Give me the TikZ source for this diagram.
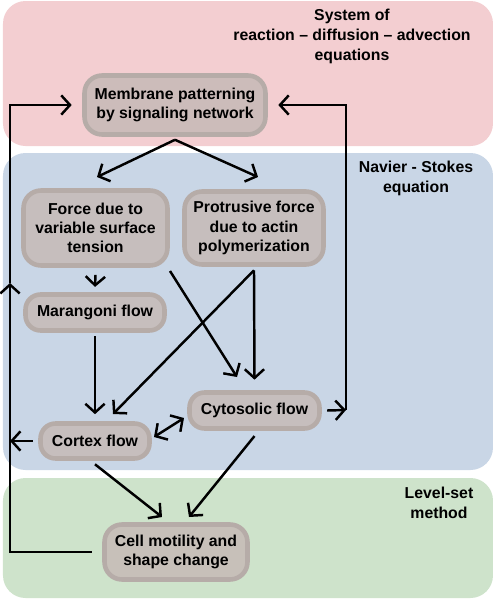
\documentclass[tikz,border=0pt]{standalone}
\usepackage{fontspec}
\setmainfont{Liberation Sans}
\usetikzlibrary{arrows.meta}
\definecolor{bgpink}{HTML}{F3CED1}
\definecolor{bgblue}{HTML}{C9D6E6}
\definecolor{bggreen}{HTML}{CEE3CB}
\definecolor{boxfill}{HTML}{C6BAB6}
\definecolor{boxline}{HTML}{B6ACA8}

\begin{document}
\begin{tikzpicture}[x=0.02cm,y=-0.02cm,
  box/.style={draw=boxline, line width=2.6pt, fill=boxfill, fill opacity=0.85, text opacity=1,
    rounded corners=0.35cm, align=center, font=\fontsize{9}{11}\selectfont\bfseries, inner sep=0pt},
  lbl/.style={align=center, font=\fontsize{9}{11.4}\selectfont\bfseries},
  barb/.tip={Straight Barb[length=5pt,width=11pt,line width=1.4pt]},
  link/.style={line width=1.4pt, -barb}]
\useasboundingbox (0,0) rectangle (495,600);
% regions
\fill[bgpink, rounded corners=0.45cm] (3,1) rectangle (493,146);
\fill[bgblue, rounded corners=0.45cm] (3,153) rectangle (493,470);
\fill[bggreen, rounded corners=0.45cm] (3,478) rectangle (493,598);
\node[lbl] (rda) at (352,36) {System of\\reaction -- diffusion -- advection\\equations};
\node[lbl] (ns) at (416,178) {Navier - Stokes\\equation};
\node[lbl] (ls) at (439,503) {Level-set\\method};
% boxes
\node[box, minimum width=3.62cm, minimum height=1.18cm] (mem) at (175,105) {Membrane patterning\\by signaling network};
\node[box, minimum width=2.88cm, minimum height=1.5cm] (force) at (95.5,228) {Force due to\\variable surface\\tension};
\node[box, minimum width=2.78cm, minimum height=1.46cm] (prot) at (254,228) {Protrusive force\\due to actin\\polymerization};
\node[box, minimum width=2.78cm, minimum height=0.72cm, rounded corners=0.3cm] (mar) at (95,312.5) {Marangoni flow};
\node[box, minimum width=2.6cm, minimum height=0.72cm, rounded corners=0.3cm] (cyto) at (254.5,410.5) {Cytosolic flow};
\node[box, minimum width=2.18cm, minimum height=0.7cm, rounded corners=0.3cm] (cortex) at (95,441) {Cortex flow};
\node[box, minimum width=2.86cm, minimum height=1.1cm] (cell) at (176,552) {Cell motility and\\shape change};
% feedback lines
\coordinate (lft) at (10,441);
\coordinate (rgt) at (346,410);
\draw[link] (mem.south) ++(0,3) -- (97,177);
\draw[link] (mem.south) ++(0,3) -- (258,177);
\draw[link] ([yshift=-4pt]force.south) -- ([yshift=3pt]mar.north);
\draw[link] (170,271) -- (237,377);
\draw[link] ([yshift=-2pt]prot.south) -- (113,414);
\draw[link] ([yshift=-2pt]prot.south) -- ([yshift=6pt]cyto.north);
\draw[link] ([yshift=-2pt]mar.south) -- ([yshift=4pt]cortex.north);
\draw[link, barb-barb] (154,437) -- (184,418);
\draw[link] ([xshift=-3pt]cortex.west) -- (lft);
\draw[link] ([xshift=3pt]cyto.east) -- (rgt);
\draw[link] ([yshift=-2pt]cortex.south) -- (162,517);
\draw[link] ([yshift=-3pt]cyto.south) -- (189,517);
\draw[line width=1.4pt] ([xshift=-6pt]cell.west) -| (lft);
\draw[link] (lft) -- (10,283);
\draw[link] (10,283) |- ([xshift=-6pt]mem.west);
\draw[link] (rgt) |- ([xshift=6pt]mem.east);
\end{tikzpicture}
\end{document}
